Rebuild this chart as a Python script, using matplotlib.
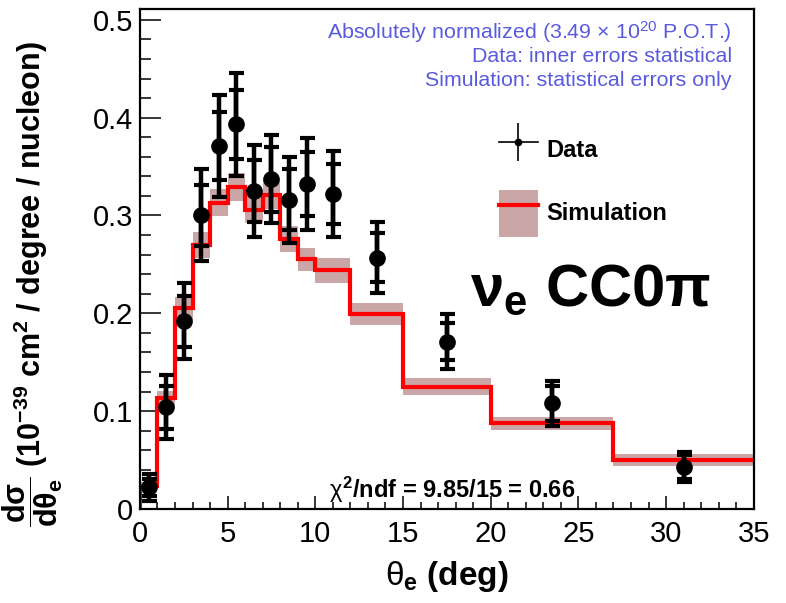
import numpy as np
import matplotlib
matplotlib.use('Agg')
import matplotlib.pyplot as plt
from matplotlib.lines import Line2D
from matplotlib.patches import Patch
from matplotlib.ticker import MultipleLocator, FuncFormatter

plt.rcParams['font.family'] = ['Liberation Sans', 'DejaVu Sans']
plt.rcParams['mathtext.fontset'] = 'custom'
plt.rcParams['mathtext.rm'] = 'Liberation Sans'
plt.rcParams['mathtext.it'] = 'Liberation Sans'
plt.rcParams['mathtext.bf'] = 'Liberation Sans:bold'

# bin edges (deg) and simulation (MC) per bin
edges = [0, 1, 2, 3, 4, 5, 6, 7, 8, 9, 10, 12, 15, 20, 27, 35]
sim = [0.023, 0.113, 0.205, 0.270, 0.313, 0.329, 0.306, 0.321, 0.276,
       0.255, 0.244, 0.199, 0.125, 0.0876, 0.050]
sim_err = [0.005, 0.008, 0.012, 0.013, 0.014, 0.014, 0.014, 0.014, 0.013,
           0.012, 0.013, 0.011, 0.009, 0.0068, 0.006]

# data points
theta = [0.5, 1.5, 2.5, 3.5, 4.5, 5.5, 6.5, 7.5, 8.5, 9.5, 11, 13.5, 17.5, 23.5, 31]
xsec = [0.022, 0.104, 0.192, 0.300, 0.371, 0.393, 0.325, 0.337, 0.316,
        0.332, 0.322, 0.257, 0.171, 0.108, 0.043]
stat_err = [0.009, 0.022, 0.026, 0.031, 0.035, 0.035, 0.032, 0.033, 0.031,
            0.033, 0.031, 0.025, 0.019, 0.018, 0.012]
tot_err = [0.014, 0.033, 0.039, 0.047, 0.052, 0.053, 0.047, 0.045, 0.044,
           0.047, 0.044, 0.036, 0.028, 0.023, 0.015]

sim = np.array(sim)
sim_err = np.array(sim_err)

fig = plt.figure(figsize=(7.86, 6.03), dpi=100)
ax = fig.add_axes([0.178, 0.156, 0.781, 0.829])

band = '#cba6a6'
ax.stairs(sim + sim_err, edges, baseline=sim - sim_err, fill=True, color=band, lw=0, zorder=1)
# histogram outline: rising edge at the first bin, no closing edge at the end
ax.stairs(sim, edges, baseline=None, color='red', lw=3, zorder=2)
ax.vlines(edges[0], 0, sim[0], color='red', lw=3, zorder=2)

ax.errorbar(theta, xsec, yerr=tot_err, fmt='none', ecolor='black', elinewidth=3.2,
            capsize=5.4, capthick=3, zorder=3)
ax.errorbar(theta, xsec, yerr=stat_err, fmt='o', color='black', ms=11, elinewidth=3.2,
            capsize=5.4, capthick=3, zorder=4)

ax.set_xlim(0, 35)
ax.set_ylim(0, 0.511)

ax.xaxis.set_major_locator(MultipleLocator(5))
ax.xaxis.set_minor_locator(MultipleLocator(1))
ax.yaxis.set_major_locator(MultipleLocator(0.1))
ax.yaxis.set_minor_locator(MultipleLocator(0.02))
ax.yaxis.set_major_formatter(FuncFormatter(lambda v, p: '0' if abs(v) < 1e-9 else f'{v:.1f}'))
ax.tick_params(axis='both', which='both', direction='in', top=False, right=False,
               labelsize=21, width=1.1, colors='black')
ax.tick_params(axis='x', which='major', length=9.4, pad=8)
ax.tick_params(axis='x', which='minor', length=5)
ax.tick_params(axis='y', which='major', length=15, pad=5)
ax.tick_params(axis='y', which='minor', length=8)
for s in ax.spines.values():
    s.set_linewidth(1.6)
    s.set_zorder(5)

ax.set_xlabel(r'$\theta_{\mathbf{e}}$ $\mathbf{(deg)}$', fontsize=24)
ax.xaxis.set_label_coords(0.5, -0.1)
ax.set_ylabel(r'$\mathbf{\dfrac{d\sigma}{d\theta_e}}$ $\mathbf{(10^{-39}\ cm^2\ /\ degree\ /\ nucleon)}$',
              fontsize=22)
ax.yaxis.set_label_coords(-0.122, 0.45)

blue = '#5a5ade'
ax.text(0.964, 0.954, r'Absolutely normalized (3.49 $\times$ 10$^{20}$ P.O.T.)', transform=ax.transAxes,
        ha='right', va='center', fontsize=15.4, color=blue)
ax.text(0.964, 0.906, 'Data: inner errors statistical', transform=ax.transAxes,
        ha='right', va='center', fontsize=15.4, color=blue)
ax.text(0.964, 0.858, 'Simulation: statistical errors only', transform=ax.transAxes,
        ha='right', va='center', fontsize=15.4, color=blue)

ax.text(0.508, 0.038, r'$\chi^{\mathbf{2}}$/ndf = 9.85/15 = 0.66', transform=ax.transAxes,
        ha='center', va='center', fontsize=17, fontweight='bold')

ax.text(0.538, 0.437, r'$\mathbf{\nu_e}$ CC0$\mathbf{\pi}$', transform=ax.transAxes,
        ha='left', va='center', fontsize=43, fontweight='bold')

data_handle = (Line2D([], [], color='black', lw=1.2),
               Line2D([], [], color='black', marker='|', ms=28, mew=1.2, ls='none'),
               Line2D([], [], color='black', marker='o', ms=4.5, ls='none'))
sim_handle = (Patch(facecolor=band, edgecolor='none'),
              Line2D([], [], color='red', lw=3))
leg = ax.legend([data_handle, sim_handle], ['Data', 'Simulation'], loc='upper left',
                bbox_to_anchor=(0.585, 0.765), frameon=False, borderpad=0, borderaxespad=0,
                handlelength=1.65, handleheight=2.7, handletextpad=0.35, labelspacing=0.68,
                prop={'weight': 'bold', 'size': 17})

fig.savefig('out.png', dpi=100, facecolor='white')
